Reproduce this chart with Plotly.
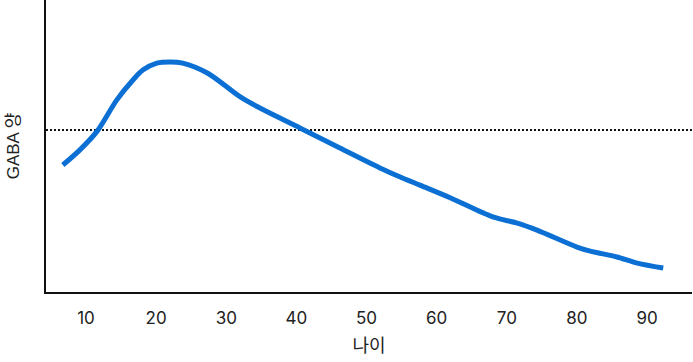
import plotly.graph_objects as go

age = [6.7, 9.1, 11.6, 14.4, 16.7, 18.1, 20.1, 22.0, 23.8, 27.3, 32.0, 34.8, 40.5,
       46.2, 51.9, 54.8, 57.6, 62.0, 68.0, 71.5, 74.3, 80.0, 81.9, 85.7, 88.6, 92.3]
gaba = [43.5, 48.6, 55.1, 65.8, 72.6, 76.0, 78.4, 78.8, 78.4, 75.0, 66.8, 63.0, 56.2,
        49.3, 42.5, 39.4, 36.6, 32.2, 25.7, 23.6, 21.2, 15.4, 14.0, 12.0, 9.9, 8.2]
ref_level = 55.5
x_ticks = [10, 20, 30, 40, 50, 60, 70, 80, 90]
x_title = "나이"
y_title = "GABA 양"

fig = go.Figure()
fig.add_trace(go.Scatter(x=[4.3, 96.4], y=[ref_level, ref_level], mode="lines",
                         line=dict(color="#111111", width=2, dash="2px,2px"),
                         hoverinfo="skip", showlegend=False))
fig.add_trace(go.Scatter(x=age, y=gaba, mode="lines",
                         line=dict(color="#0B6FD3", width=5, shape="spline", smoothing=0.9),
                         showlegend=False))

font_ticks = "Inter, 'Noto Sans', sans-serif"
font_title = "'Liberation Sans', 'Noto Sans CJK KR', sans-serif"

fig.update_layout(
    width=693, height=362,
    margin=dict(l=46, r=1, t=0, b=70),
    paper_bgcolor="white", plot_bgcolor="white",
    xaxis=dict(range=[4.3, 96.4], tickvals=x_ticks, ticktext=[str(v) for v in x_ticks],
               showgrid=False, zeroline=False, showline=True, linecolor="#111111", linewidth=2,
               ticks="", ticklabelstandoff=10,
               tickfont=dict(family=font_ticks, size=17, color="#222222"),
               title=dict(text=x_title, font=dict(family=font_title, size=18, color="#222222"),
                          standoff=12)),
    yaxis=dict(range=[0, 100], showticklabels=False, showgrid=False, zeroline=False,
               showline=True, linecolor="#111111", linewidth=2, ticks="",
               title=dict(text=y_title, font=dict(family=font_title, size=17, color="#222222"),
                          standoff=20)),
)

fig.write_html("out.html", config={"displayModeBar": False},
               post_script="document.body.style.margin='0';document.body.style.overflow='hidden';")
